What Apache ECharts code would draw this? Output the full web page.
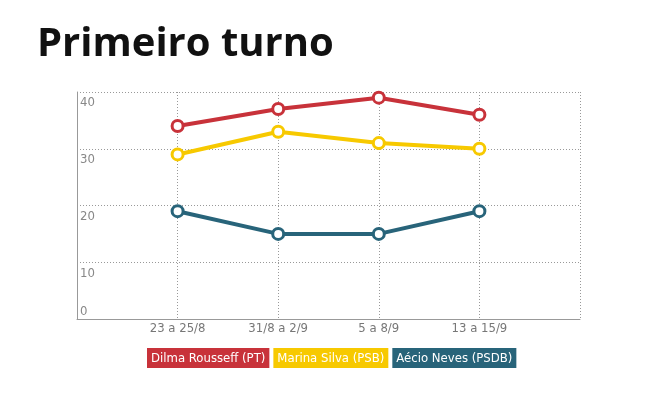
<!DOCTYPE html>
<html><head><meta charset="utf-8">
<script src="https://cdn.jsdelivr.net/npm/echarts@6/dist/echarts.min.js"></script>
<style>html,body{margin:0;padding:0;background:#fff}#c{width:669px;height:397px}</style>
</head><body><div id="c"></div>
<script>
const categories = ['', '23 a 25/8', '31/8 a 2/9', '5 a 8/9', '13 a 15/9', ''];
const dilma = [null, 34, 37, 39, 36, null];
const marina = [null, 29, 33, 31, 30, null];
const aecio = [null, 19, 15, 15, 19, null];
const seriesNames = ['Dilma Rousseff (PT)', 'Marina Silva (PSB)', 'Aécio Neves (PSDB)'];
const colors = ['#c8323a', '#f7c900', '#28647a'];
const yTicks = [0, 10, 20, 30, 40];

const font = '"Liberation Sans Narrow","DejaVu Sans Condensed",sans-serif';
const chart = echarts.init(document.getElementById('c'));
function mk(name, data, color) {
  return {
    name, type: 'line', data, color,
    symbol: 'circle', symbolSize: 11, showAllSymbol: true,
    lineStyle: { width: 4, color },
    itemStyle: { color: '#fff', borderColor: color, borderWidth: 3 },
    emphasis: { disabled: true }
  };
}
const legendRich = {};
colors.forEach((c, i) => {
  legendRich['s' + i] = { backgroundColor: c, color: '#fff', padding: [4, 4, 3, 4], fontSize: 13, fontFamily: font, lineHeight: 15 };
});
chart.setOption({
  animation: false,
  title: { text: 'Primeiro turno', left: 32, top: 20,
    textStyle: { fontFamily: '"Open Sans",sans-serif', fontWeight: 'bold', fontSize: 40, color: '#111' } },
  grid: { left: 77, right: 89, top: 92, bottom: 78, containLabel: false },
  legend: {
    bottom: 24, left: 136, itemWidth: 0, itemHeight: 0, itemGap: -2, icon: 'rect',
    selectedMode: false,
    data: seriesNames,
    formatter: n => '{s' + seriesNames.indexOf(n) + '|' + n + '}',
    textStyle: { fontFamily: font, fontSize: 13, color: '#fff', rich: legendRich }
  },
  xAxis: {
    type: 'category', data: categories, boundaryGap: false,
    axisLine: { lineStyle: { color: '#999', width: 1 } },
    axisTick: { show: false },
    axisLabel: { color: '#777', fontFamily: font, fontSize: 13, margin: 3, interval: 0 },
    splitLine: { show: true, interval: i => i > 0, lineStyle: { color: '#999', type: [1, 2], width: 1 } }
  },
  yAxis: {
    type: 'value', min: 0, max: 40, interval: 10,
    axisLine: { show: true, lineStyle: { color: '#999' } },
    axisTick: { show: false },
    axisLabel: {
      inside: true, color: '#888', fontFamily: font, fontSize: 13, margin: 3, verticalAlign: 'middle',
      formatter: v => yTicks.indexOf(v) === 0 ? '{z|' + v + '}' : '{a|' + v + '}',
      rich: {
        a: { padding: [22, 0, 0, 0], color: '#888', fontFamily: font, fontSize: 13 },
        z: { padding: [0, 0, 15, 0], color: '#888', fontFamily: font, fontSize: 13 }
      }
    },
    splitLine: { lineStyle: { color: '#999', type: [1, 2], width: 1 } }
  },
  series: [mk(seriesNames[0], dilma, colors[0]), mk(seriesNames[1], marina, colors[1]), mk(seriesNames[2], aecio, colors[2])]
});
</script></body></html>
